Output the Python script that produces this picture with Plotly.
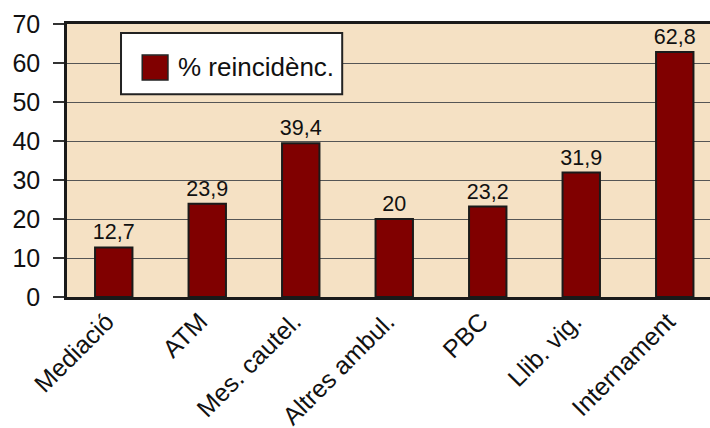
import plotly.graph_objects as go

categories = ["Mediació", "ATM", "Mes. cautel.", "Altres ambul.", "PBC", "Llib. vig.", "Internament"]
reincidencia = [12.7, 23.9, 39.4, 20, 23.2, 31.9, 62.8]
y_ticks = [0, 10, 20, 30, 40, 50, 60, 70]
series_name = "% reincidènc."

BAR_COLOR = "#800000"
PLOT_BG = "#F5E1C4"
FONT = "Liberation Sans, Arial, sans-serif"

fig = go.Figure()
fig.add_trace(go.Bar(
    x=categories,
    y=reincidencia,
    name=series_name,
    width=0.4,
    marker=dict(color=BAR_COLOR, line=dict(color="#1a1a1a", width=2)),
    texttemplate="%{y}",
    textposition="outside",
    constraintext="none",
    textfont=dict(size=21.5, color="#111111", family=FONT),
    cliponaxis=False,
    showlegend=False,
))

# Legend box drawn in paper coordinates
fig.add_shape(type="rect", xref="paper", yref="paper",
              x0=0.084, x1=0.428, y0=0.743, y1=0.967,
              fillcolor="white", line=dict(color="#222222", width=2), layer="above")
fig.add_shape(type="rect", xref="paper", yref="paper",
              x0=0.117, x1=0.157, y0=0.795, y1=0.886,
              fillcolor=BAR_COLOR, line=dict(color="#222222", width=1.5), layer="above")
fig.add_annotation(xref="paper", yref="paper", x=0.170, y=0.842,
                   text=series_name, showarrow=False, xanchor="left", yanchor="middle",
                   font=dict(size=26, color="#111111", family=FONT))

fig.update_layout(
    width=710, height=428,
    margin=dict(l=67, r=0, t=24, b=131),
    paper_bgcolor="white",
    plot_bgcolor=PLOT_BG,
    separators=",.",
    font=dict(family=FONT, color="#111111"),
    bargap=0.6,
)
fig.update_yaxes(
    range=[0, 70], tickvals=y_ticks, automargin=False,
    ticks="outside", ticklen=11, tickwidth=1.5, tickcolor="#333333",
    ticklabelstandoff=8,
    tickfont=dict(size=25, family=FONT, color="#111111"),
    showgrid=True, gridcolor="#555555", gridwidth=1.3,
    showline=True, linecolor="#1a1a1a", linewidth=2.5,
    zeroline=False,
)
fig.update_xaxes(
    range=[-0.5, 6.377], automargin=False,
    tickangle=-45,
    ticklabelshift=-7,
    ticklabelstandoff=-3,
    tickfont=dict(size=25, family=FONT, color="#111111"),
    showline=True, linecolor="#1a1a1a", linewidth=3, mirror=True,
    ticks="", showgrid=False,
)

fig.write_html("out.html")
